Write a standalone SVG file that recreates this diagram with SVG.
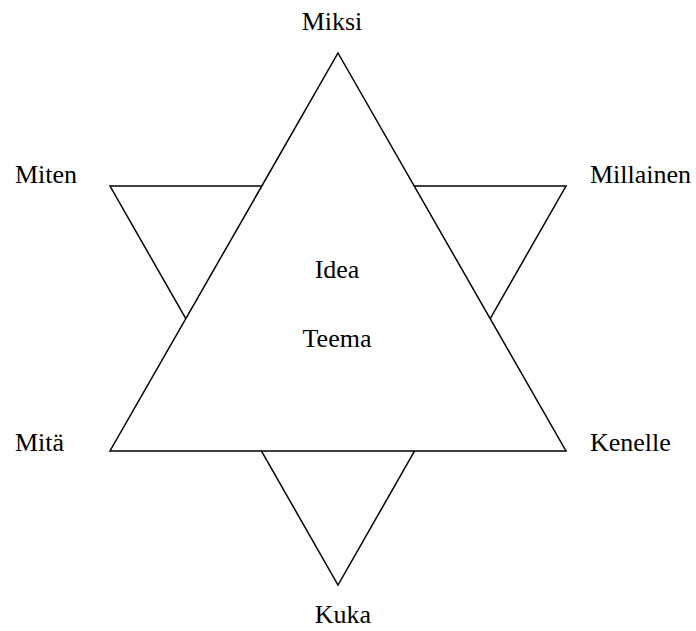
<svg xmlns="http://www.w3.org/2000/svg" width="696" height="631" viewBox="0 0 696 631">
<style>
.tri{fill:#fff;stroke:#000;stroke-width:1.5;stroke-linejoin:miter}
text{font-family:"Liberation Serif","Times New Roman",serif;font-size:26px;fill:#000}
.m{text-anchor:middle}
</style>
<rect width="696" height="631" fill="#fff"/>
<g id="star">
<polygon id="down" class="tri" points="110,186 566,186 338,585"/>
<polygon id="up" class="tri" points="338,53 566,451 110,451"/>
</g>
<g id="labels">
<text id="miksi" x="332" y="30" class="m">Miksi</text>
<text id="miten" x="15" y="183">Miten</text>
<text id="millainen" x="590" y="183">Millainen</text>
<text id="mita" x="15" y="451">Mitä</text>
<text id="kenelle" x="590" y="451">Kenelle</text>
<text id="kuka" x="343" y="623" class="m">Kuka</text>
<text id="idea" x="337" y="278" class="m">Idea</text>
<text id="teema" x="337" y="347" class="m">Teema</text>
</g>
</svg>
